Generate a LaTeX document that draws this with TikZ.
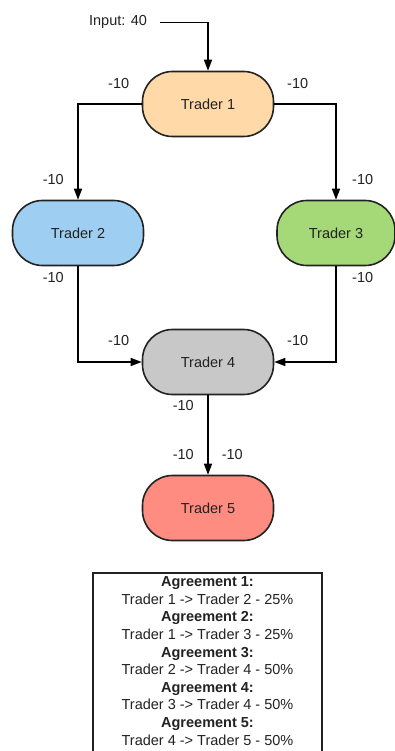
\documentclass[tikz,border=0pt]{standalone}
\usepackage{fontspec}
\setmainfont{Liberation Sans}
\usetikzlibrary{arrows.meta}
\definecolor{peach}{RGB}{255,217,168}
\definecolor{skyblue}{RGB}{158,207,242}
\definecolor{leafgreen}{RGB}{165,217,119}
\definecolor{midgray}{RGB}{200,200,200}
\definecolor{salmon}{RGB}{255,140,128}
\definecolor{ink}{RGB}{34,34,34}
\tikzset{
  trader/.style={draw=ink, line width=1.6pt, rounded corners=30pt,
    minimum width=131pt, minimum height=65pt, inner sep=0pt,
    font=\fontsize{14.5}{17}\selectfont, text=ink},
  flow/.style={draw=black, line width=1.5pt,
    -{Triangle[length=11pt,width=8pt]}},
  amount/.style={font=\fontsize{14.5}{17}\selectfont, text=ink, inner sep=0pt},
}
\begin{document}
\begin{tikzpicture}[x=1pt, y=1pt, yscale=-1]
  \useasboundingbox (0,0) rectangle (395,751);
  \fill[white] (0,0) rectangle (395,751);

  % traders
  \node[trader, fill=peach] (t1) at (208,104) {Trader 1};
  \node[trader, fill=skyblue] (t2) at (78,233) {Trader 2};
  \node[trader, fill=leafgreen, minimum width=118pt] (t3) at (336,233) {Trader 3};
  \node[trader, fill=midgray] (t4) at (208,362) {Trader 4};
  \node[trader, fill=salmon] (t5) at (208,508) {Trader 5};

  % input
  \node[amount] (inp) at (118,22) {Input: 40};
  \coordinate (inpstart) at (160,22.7);
  \draw[flow] (inpstart) -| (t1.north);

  % flows between traders
  \draw[flow] (t1.west) -| (t2.north);
  \draw[flow] (t1.east) -| (t3.north);
  \draw[flow] (t2.south) |- (t4.west);
  \draw[flow] (t3.south) |- (t4.east);
  \draw[flow] (t4.south) -- (t5.north);

  % amounts
  \node[amount] (a1) at (118.7,83.3) {-10};
  \node[amount] (a2) at (297.7,83.3) {-10};
  \node[amount] (a3) at (53.3,179.3) {-10};
  \node[amount] (a4) at (362.7,179.3) {-10};
  \node[amount] (a5) at (53.3,277.7) {-10};
  \node[amount] (a6) at (362.7,277.7) {-10};
  \node[amount] (a7) at (118.7,340.7) {-10};
  \node[amount] (a8) at (297.7,340.7) {-10};
  \node[amount] (a9) at (183.3,405.7) {-10};
  \node[amount] (a10) at (183.3,454.3) {-10};
  \node[amount] (a11) at (232.3,454.3) {-10};

  % agreements
  \draw[draw=ink, line width=1.6pt] (93,760) -- (93,573) -- (322,573) -- (322,760);
  \node[amount, align=center, font=\fontsize{14.5}{17.6}\selectfont] (agr) at (207.5,661) {%
    \textbf{Agreement 1:}\\
    Trader 1 -> Trader 2 - 25\%\\
    \textbf{Agreement 2:}\\
    Trader 1 -> Trader 3 - 25\%\\
    \textbf{Agreement 3:}\\
    Trader 2 -> Trader 4 - 50\%\\
    \textbf{Agreement 4:}\\
    Trader 3 -> Trader 4 - 50\%\\
    \textbf{Agreement 5:}\\
    Trader 4 -> Trader 5 - 50\%};
\end{tikzpicture}
\end{document}
